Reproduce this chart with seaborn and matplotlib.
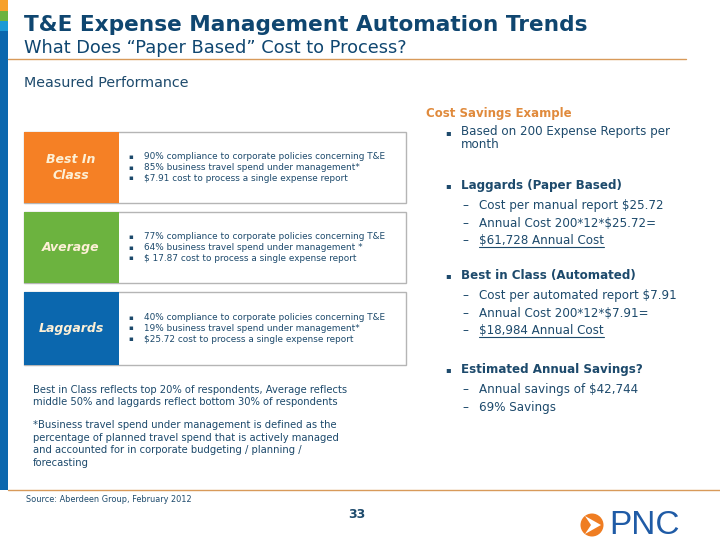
import matplotlib
matplotlib.use("Agg")
import matplotlib.pyplot as plt
import matplotlib.patches as mpatches
import seaborn as sns

# slide content
title = "T&E Expense Management Automation Trends"
subtitle = "What Does \u201cPaper Based\u201d Cost to Process?"
section = "Measured Performance"

tiers = ["Best In\nClass", "Average", "Laggards"]
tier_colors = ["#f58025", "#6cb33f", "#0b67ae"]
tier_bullets = [
    ["90% compliance to corporate policies concerning T&E",
     "85% business travel spend under management*",
     "$7.91 cost to process a single expense report"],
    ["77% compliance to corporate policies concerning T&E",
     "64% business travel spend under management *",
     "$ 17.87 cost to process a single expense report"],
    ["40% compliance to corporate policies concerning T&E",
     "19% business travel spend under management*",
     "$25.72 cost to process a single expense report"],
]

savings_title = "Cost Savings Example"
savings_heads = ["Based on 200 Expense Reports per\nmonth",
                 "Laggards (Paper Based)",
                 "Best in Class (Automated)",
                 "Estimated Annual Savings?"]
savings_items = [
    [],
    ["Cost per manual report $25.72", "Annual Cost 200*12*$25.72=", "$61,728 Annual Cost"],
    ["Cost per automated report $7.91", "Annual Cost 200*12*$7.91=", "$18,984 Annual Cost"],
    ["Annual savings of $42,744", "69% Savings"],
]
underlined = ["$61,728 Annual Cost", "$18,984 Annual Cost"]

note1 = "Best in Class reflects top 20% of respondents, Average reflects\nmiddle 50% and laggards reflect bottom 30% of respondents"
note2 = ("*Business travel spend under management is defined as the\n"
         "percentage of planned travel spend that is actively managed\n"
         "and accounted for in corporate budgeting / planning /\nforecasting")
source = "Source: Aberdeen Group, February 2012"
page = "33"

sns.set_theme(style="white")
plt.rcParams['font.family'] = ['DejaVu Sans']

navy = "#0f4670"
text_col = "#1d4a6c"
orange_line = "#d89a5a"

fig = plt.figure(figsize=(7.2, 5.4), dpi=100)
ax = fig.add_axes([0, 0, 1, 1])
ax.set_xlim(0, 720)
ax.set_ylim(540, 0)
ax.axis("off")

# left accent strip
strip = [("#f7a12b", 0, 11), ("#6cb33f", 11, 21), ("#1a9ad6", 21, 31), ("#0b67ae", 31, 490)]
for c, y0, y1 in strip:
    ax.add_patch(mpatches.Rectangle((0, y0), 8, y1 - y0, color=c, lw=0))

ax.text(24, 25, title, fontsize=15.6, fontweight="bold", color=navy, va="center")
ax.text(24, 48, subtitle, fontsize=12.8, color=navy, va="center")
ax.plot([8, 686], [59, 59], color=orange_line, lw=1)
ax.text(24, 83, section, fontsize=10.3, color=text_col, va="center")

# tier boxes
box_tops = [132, 212, 292]
box_h = [71, 71, 73]
for i, (name, col, bullets) in enumerate(zip(tiers, tier_colors, tier_bullets)):
    y0 = box_tops[i]
    h = box_h[i]
    ax.add_patch(mpatches.Rectangle((24, y0), 382, h, facecolor="white",
                                    edgecolor="#b5b5b5", lw=1))
    ax.add_patch(mpatches.Rectangle((24, y0), 95, h, color=col, lw=0))
    ax.text(71, y0 + h / 2, name, fontsize=9, fontweight="bold", style="italic",
            color="#fdf0d6", ha="center", va="center", linespacing=1.25)
    cy = y0 + h / 2
    for j, b in enumerate(bullets):
        yy = cy + (j - 1) * 10.8
        ax.text(128, yy, "\u25aa", fontsize=5, color=text_col, va="center")
        ax.text(144, yy, b, fontsize=6.4, color=text_col, va="center")

# cost savings example
ax.text(426, 113, savings_title, fontsize=8.5, fontweight="bold", color="#e08a3c", va="center")
head_y = [138, 186, 276, 370]
under_texts = []
for k, (head, items) in enumerate(zip(savings_heads, savings_items)):
    hy = head_y[k]
    ax.text(445, hy if k else 133, "\u25aa", fontsize=6, color=text_col, va="center")
    if k == 0:
        ax.text(461, 138, head, fontsize=8.6, color=text_col, va="center", linespacing=0.9)
    else:
        ax.text(461, hy, head, fontsize=8.6, fontweight="bold", color=text_col, va="center")
    for m, it in enumerate(items):
        iy = hy + 20 + m * 17.5
        ax.text(462, iy, "\u2013", fontsize=8.6, color=text_col, va="center")
        t = ax.text(479, iy, it, fontsize=8.6, color=text_col, va="center")
        if it in underlined:
            under_texts.append(t)

ax.text(33, 396, note1, fontsize=7.2, color=text_col, va="center", linespacing=1.35)
ax.text(33, 444, note2, fontsize=7.2, color=text_col, va="center", linespacing=1.35)

ax.plot([8, 720], [490, 490], color=orange_line, lw=1)
ax.text(26, 499, source, fontsize=5.85, color=text_col, va="center")
ax.text(357, 514, page, fontsize=9, fontweight="bold", color=text_col, va="center", ha="center")

# PNC logo
ax.add_patch(mpatches.Circle((592, 525), 11.5, color="#ef7d22", lw=0))
ax.add_patch(mpatches.Polygon([(585, 516), (601, 525), (585, 534), (591, 525)],
                              closed=True, color="white", lw=0))
ax.text(609, 525, "PNC", fontsize=24, color="#1f5ba6", va="center", family="Liberation Sans")

# underline the annual cost figures
fig.canvas.draw()
inv = ax.transData.inverted()
for t in under_texts:
    bb = t.get_window_extent()
    (x0, y0), (x1, y1) = inv.transform([[bb.x0, bb.y0], [bb.x1, bb.y1]])
    ax.plot([x0, x1], [y0 - 0.5, y0 - 0.5], color=text_col, lw=0.8)

fig.savefig("out.png", dpi=100)
